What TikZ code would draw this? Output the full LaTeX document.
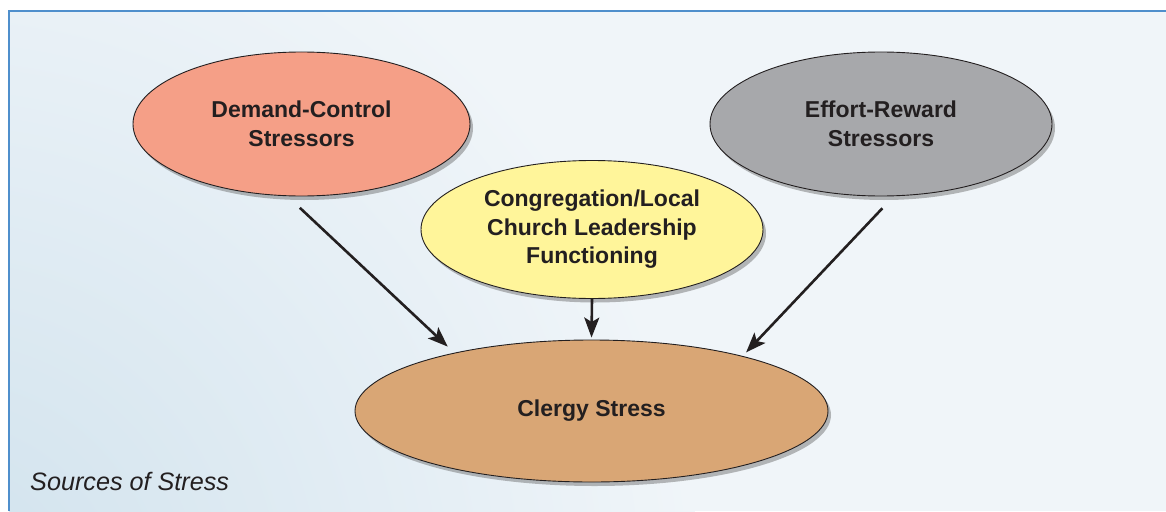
\documentclass[tikz,border=0pt]{standalone}
\usepackage{fontspec}
\setmainfont{Liberation Sans}
\usetikzlibrary{shapes.geometric,arrows.meta,shadows}
\definecolor{bgbase}{HTML}{F0F5F9}
\definecolor{bgblue}{HTML}{D0E2ED}
\definecolor{framec}{HTML}{4F8FCC}
\definecolor{salmon}{HTML}{F59F87}
\definecolor{greyc}{HTML}{A7A8AB}
\definecolor{yellowc}{HTML}{FFF59A}
\definecolor{tanc}{HTML}{D9A675}
\definecolor{inkc}{HTML}{231F20}
\tikzset{
  bubble/.style={ellipse, draw=inkc, line width=0.9pt, inner sep=0pt, text=inkc,
    align=center, font=\bfseries\fontsize{23}{28.5}\selectfont,
    drop shadow={shadow xshift=3pt, shadow yshift=-4pt, opacity=0.45, fill=black!60}},
  link/.style={draw=inkc, line width=2.6pt, -{Stealth[length=20pt,width=15pt,inset=4.5pt]}}
}
\begin{document}
\begin{tikzpicture}[x=1pt,y=-1pt]
\useasboundingbox (0,0) rectangle (1166,511);
\fill[white] (0,0) rectangle (1166,511);
\fill[bgbase] (9,11) rectangle (1166,511);
\begin{scope}
  \clip (9,11) rectangle (1166,511);
  \shade[inner color=bgblue, outer color=bgbase] (-60,600) circle[radius=760];
\end{scope}
\draw[framec, line width=1.4pt] (9,511) -- (9,11) -- (1166,11);

\node[bubble, fill=salmon, minimum width=337pt, minimum height=144pt] (dc) at (301.5,124) {Demand-Control\\Stressors};
\node[bubble, fill=greyc, minimum width=342pt, minimum height=144pt] (er) at (881,124) {Effort-Reward\\Stressors};
\node[bubble, fill=yellowc, minimum width=342pt, minimum height=138pt] (cong) at (592,229.5) {Congregation/Local\\Church Leadership\\Functioning};
\node[bubble, fill=tanc, minimum width=473pt, minimum height=142pt] (cs) at (591.5,411) {Clergy Stress};

\draw[link, shorten <=17pt, shorten >=9pt] (dc.259.2) -- (cs.157.4);
\draw[link, shorten <=16.5pt, shorten >=5pt] (er.-80.2) -- (cs.20.5);
\draw[link, shorten >=2pt] (cong.south) -- (cs.north);

\node[anchor=base west, inner sep=0pt, text=inkc, font=\itshape\fontsize{25.2}{30}\selectfont] (title) at (30,490) {Sources of Stress};
\end{tikzpicture}
\end{document}
